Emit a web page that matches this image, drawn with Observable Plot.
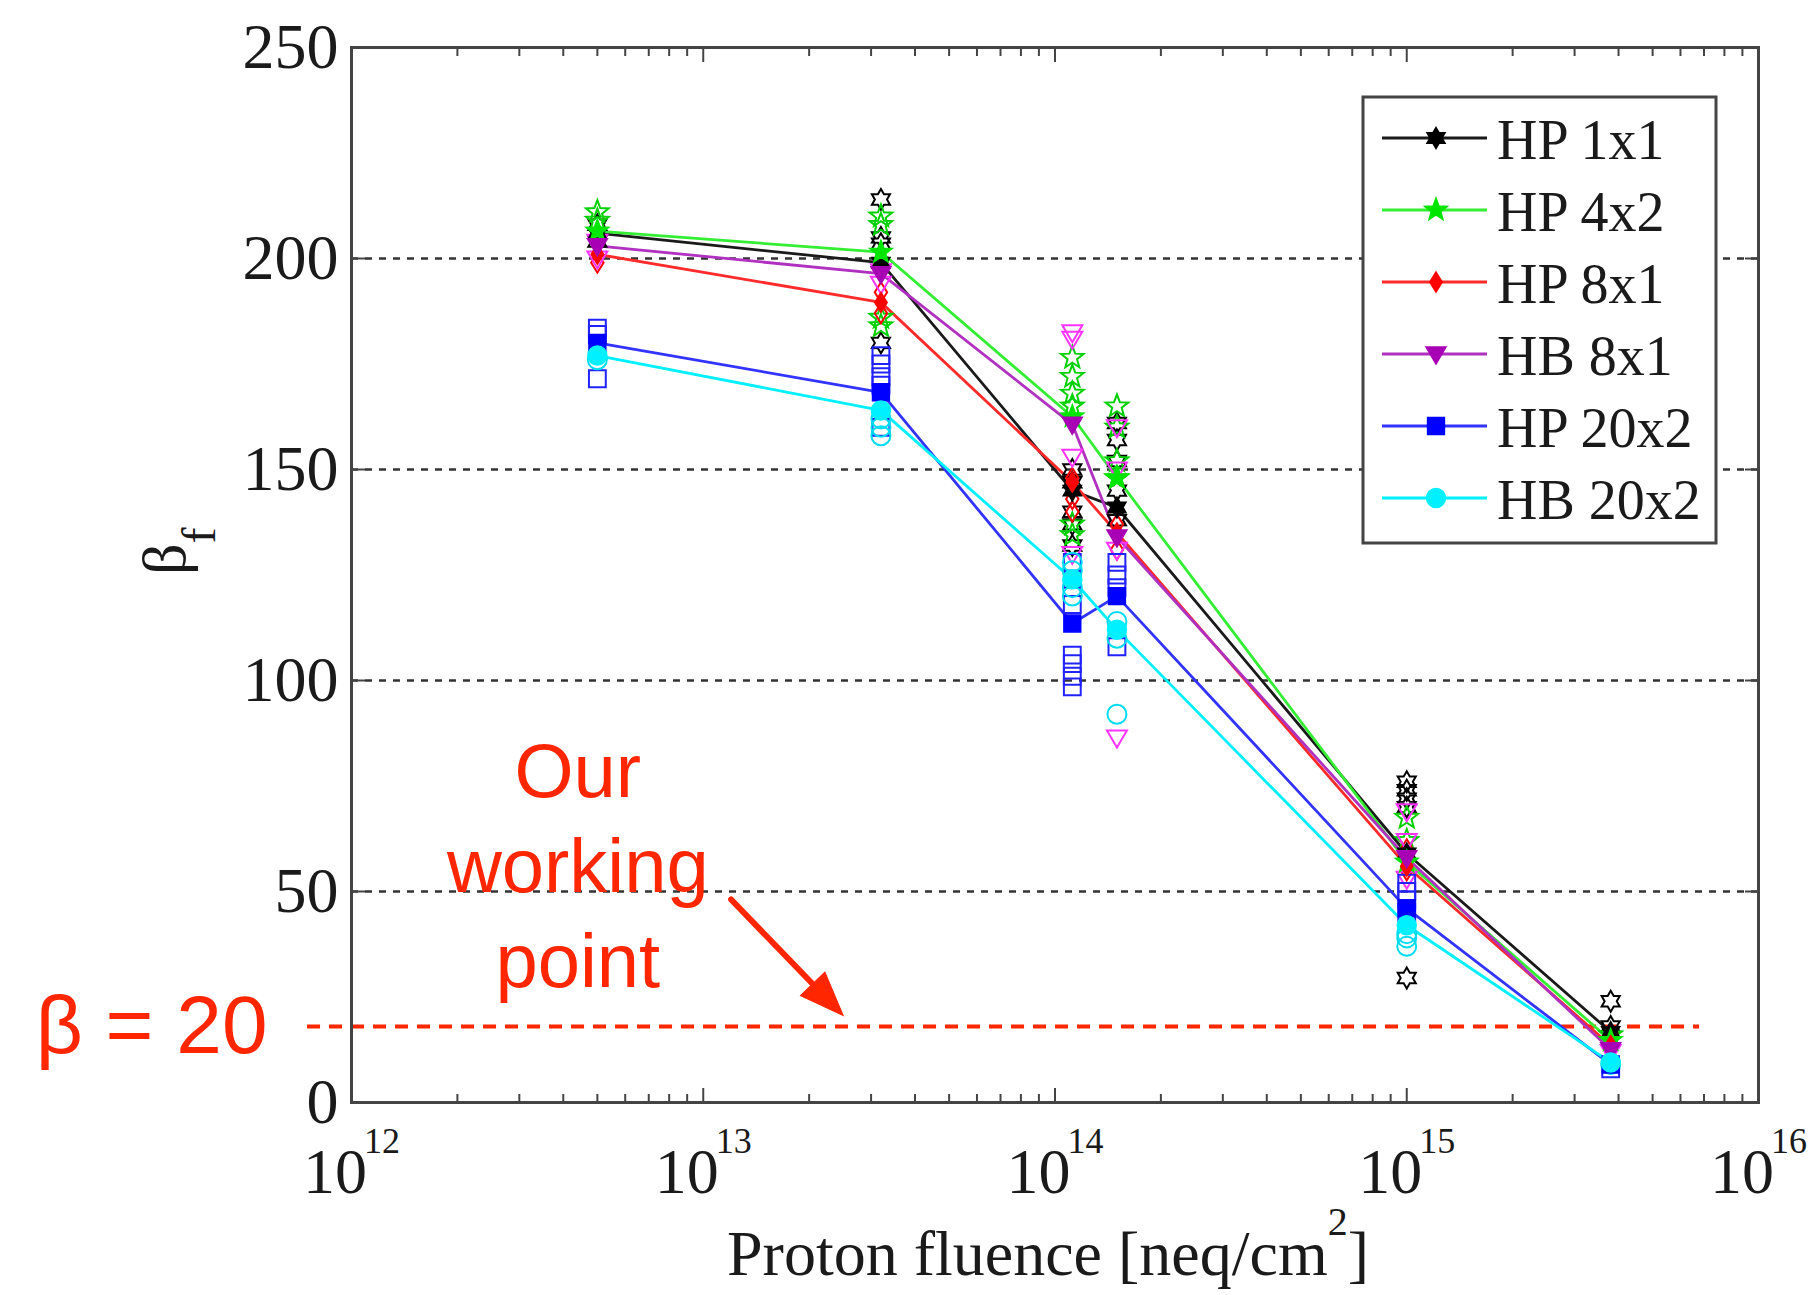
<!DOCTYPE html>
<html><head><meta charset="utf-8">
<script src="https://cdn.jsdelivr.net/npm/d3@7"></script>
<script src="https://cdn.jsdelivr.net/npm/@observablehq/plot@0.6"></script>
<style>html,body{margin:0;padding:0;background:#fff;} #chart{width:1819px;height:1295px;}</style>
</head><body><div id="chart"></div>
<script>
// ---------------- data ----------------
const fluence = [5e12, 3.2e13, 1.12e14, 1.5e14, 1e15, 3.8e15];
const seriesNames = ["HP 1x1", "HP 4x2", "HP 8x1", "HB 8x1", "HP 20x2", "HB 20x2"];

// mean values (filled markers joined by lines)
const hp1x1Mean  = [206, 199, 145, 141, 59, 16.7];
const hp4x2Mean  = [206.5, 201.5, 162.5, 148, 57, 14.7];
const hp8x1Mean  = [201, 189.6, 147, 135, 56, 13.5];
const hb8x1Mean  = [203, 196.4, 160.7, 134, 58, 12.5];
const hp20x2Mean = [180, 168.3, 113.5, 120, 46, 9];
const hb20x2Mean = [177, 164, 124, 112, 42, 9.5];

// individual devices (open markers), one list per fluence
const hp1x1Samples  = [[208, 204], [214, 205, 203.5, 180], [150, 147, 140, 137, 132], [161, 157, 152, 145, 138], [76, 74, 72, 70, 29.5], [24, 18]];
const hp4x2Samples  = [[211, 209], [210, 208, 186, 184], [176.5, 172, 168, 165, 137, 134.5], [165, 160, 152, 148], [67.5, 62], [16]];
const hp8x1Samples  = [[199], [192, 187], [148, 143, 140], [137, 131], [60, 55], [14]];
const hb8x1Samples  = [[204, 200], [197, 194], [182.5, 181, 153, 130], [160, 150, 131, 86.5], [69, 62, 53], [12]];
const hp20x2Samples = [[183.5, 182, 171.5], [177, 175, 172, 170, 160], [128, 124, 118, 106, 104, 101, 98.5], [128, 125, 122, 108], [52, 50, 48, 45], [8]];
const hb20x2Samples = [[176], [162, 160, 158], [128, 126, 122, 120], [114, 110, 92], [40, 39, 37], [9]];

const yTicks = [0, 50, 100, 150, 200, 250];
const gridValues = [50, 100, 150, 200];
const xDecades = [1e12, 1e13, 1e14, 1e15, 1e16];
const xMinor = [2,3,4,5,6,7,8,9].flatMap(m => [12,13,14,15].map(e => m * 10 ** e));
const xLabel = ["Proton fluence [neq/cm^{2}]"];
const yLabel = ["β_{f}"];

// annotation
const betaLine = [18];
const betaLineX = [7.5e11, 6.8e15];
const betaLabel = ["β = 20"];
const betaLabelX = [1.265e11];
const workingLabel = ["Our\nworking\npoint"];
const workingLabelAt = [4.4e12, 57];
const arrowFrom = [1.2e13, 48.1];
const arrowTo = [2.5e13, 20.6];

// ---------------- symbols ----------------
function starSymbol(n, ratio, scale) {
  return {draw(ctx, size) {
    const R = Math.sqrt(size / Math.PI) * scale, r = R * ratio;
    for (let i = 0; i < 2 * n; i++) {
      const a = Math.PI * i / n - Math.PI / 2, rad = i % 2 ? r : R;
      const x = rad * Math.cos(a), y = rad * Math.sin(a);
      i ? ctx.lineTo(x, y) : ctx.moveTo(x, y);
    }
    ctx.closePath();
  }};
}
const hexagram = starSymbol(6, 0.58, 1.1);
const pentagram = starSymbol(5, 0.42, 1.25);
const tallDiamond = {draw(ctx, size) {
  const r = Math.sqrt(size / Math.PI) * 1.05, w = r * 0.62;
  ctx.moveTo(0, -r); ctx.lineTo(w, 0); ctx.lineTo(0, r); ctx.lineTo(-w, 0); ctx.closePath();
}};
const triDown = {draw(ctx, size) {
  const r = Math.sqrt(size / Math.PI) * 1.05;
  ctx.moveTo(-r, -0.7 * r); ctx.lineTo(r, -0.7 * r); ctx.lineTo(0, r); ctx.closePath();
}};
const arrowHead = {draw(ctx) {
  ctx.moveTo(0, 0); ctx.lineTo(17, 44); ctx.lineTo(-17, 44); ctx.closePath();
}};

const series = [
  {name: seriesNames[0], mean: hp1x1Mean,  samples: hp1x1Samples,  line: "#1a1a1a", fill: "#000000", open: "#000000", symbol: hexagram},
  {name: seriesNames[1], mean: hp4x2Mean,  samples: hp4x2Samples,  line: "#33ee33", fill: "#00e600", open: "#00d000", symbol: pentagram},
  {name: seriesNames[2], mean: hp8x1Mean,  samples: hp8x1Samples,  line: "#ff2a2a", fill: "#ff0000", open: "#ff0000", symbol: tallDiamond},
  {name: seriesNames[3], mean: hb8x1Mean,  samples: hb8x1Samples,  line: "#b030c0", fill: "#a800b4", open: "#ff33ff", symbol: triDown},
  {name: seriesNames[4], mean: hp20x2Mean, samples: hp20x2Samples, line: "#3333ff", fill: "#0000ff", open: "#2222ff", symbol: d3.symbolSquare},
  {name: seriesNames[5], mean: hb20x2Mean, samples: hb20x2Samples, line: "#00f0ff", fill: "#00f0ff", open: "#00dcf0", symbol: d3.symbolCircle}
];

const red = "#ff2600";
const serif = "Liberation Serif";
const sans = "Liberation Sans";

const lineMarks = series.map(s => Plot.line(s.mean.map((v, i) => ({x: fluence[i], y: v})),
  {x: "x", y: "y", stroke: s.line, strokeWidth: 2.8}));
const openMarks = series.map(s => Plot.dot(s.samples.flatMap((arr, i) => arr.map(v => ({x: fluence[i], y: v}))),
  {x: "x", y: "y", symbol: s.symbol, r: 9.5, fill: "none", stroke: s.open, strokeWidth: 2}));
const filledMarks = series.map(s => Plot.dot(s.mean.map((v, i) => ({x: fluence[i], y: v})),
  {x: "x", y: "y", symbol: s.symbol, r: 9.5, fill: s.fill, stroke: s.fill, strokeWidth: 1.5}));

const svg = Plot.plot({
  width: 1819, height: 1295,
  marginLeft: 351, marginRight: 61, marginTop: 47, marginBottom: 193,
  style: {fontFamily: serif, background: "#fff", color: "#1a1a1a"},
  x: {type: "log", domain: [1e12, 1e16]},
  y: {domain: [0, 250]},
  marks: [
    Plot.ruleY(gridValues, {stroke: "#333", strokeWidth: 2.5, strokeDasharray: "7,7"}),
    Plot.ruleY(betaLine, {y: d => d, x1: betaLineX[0], x2: betaLineX[1], stroke: red, strokeWidth: 4, strokeDasharray: "13,9"}),
    ...lineMarks,
    ...openMarks,
    ...filledMarks,
    Plot.frame({stroke: "#444", strokeWidth: 3}),
    Plot.axisX(xDecades, {anchor: "bottom", tickSize: -14, fill: "none", stroke: "#444", strokeWidth: 2, label: null}),
    Plot.axisX(xMinor, {anchor: "bottom", tickSize: -8, fill: "none", stroke: "#444", strokeWidth: 2, label: null}),
    Plot.axisX(xDecades, {anchor: "top", tickSize: -14, fill: "none", stroke: "#444", strokeWidth: 2, label: null}),
    Plot.axisX(xMinor, {anchor: "top", tickSize: -8, fill: "none", stroke: "#444", strokeWidth: 2, label: null}),
    Plot.axisY(yTicks, {anchor: "left", tickSize: -14, fill: "none", stroke: "#444", strokeWidth: 2, label: null}),
    Plot.axisY(yTicks, {anchor: "right", tickSize: -14, fill: "none", stroke: "#444", strokeWidth: 2, label: null}),
    Plot.axisY(yTicks, {anchor: "left", tickSize: 0, tickPadding: 13, stroke: "none", fill: "#1a1a1a", fontSize: 64, fontFamily: serif, label: null}),
    Plot.text(xDecades, {x: d => d, frameAnchor: "bottom", dy: 90, text: d => `10^{${Math.round(Math.log10(d))}}`,
      fontSize: 64, fontFamily: serif, fill: "#1a1a1a"}),
    Plot.text(xLabel, {frameAnchor: "bottom", dx: -7, dy: 172, text: d => d,
      fontSize: 64, fontFamily: serif, fill: "#1a1a1a"}),
    Plot.text(yLabel, {frameAnchor: "left", dx: -186, dy: 0, rotate: -90, text: d => d,
      fontSize: 62, fontFamily: serif, fill: "#1a1a1a"}),
    Plot.arrow([0], {x1: arrowFrom[0], y1: arrowFrom[1], x2: arrowTo[0], y2: arrowTo[1], headLength: 0, insetEnd: 30, stroke: red, strokeWidth: 6}),
    Plot.dot([0], {x: arrowTo[0], y: arrowTo[1], symbol: arrowHead, rotate: 136, fill: red, stroke: red, strokeWidth: 1}),
    Plot.text(workingLabel, {x: workingLabelAt[0], y: workingLabelAt[1], text: d => d, lineHeight: 1.25,
      fontSize: 76, fontFamily: sans, fill: red}),
    Plot.text(betaLabel, {x: betaLabelX[0], y: betaLine[0], text: d => d, textAnchor: "start",
      fontSize: 82, fontFamily: sans, fill: red})
  ]
});

// rich text: superscripts ^{..} and subscripts _{..}
d3.select(svg).selectAll("text").each(function() {
  const src = this.textContent;
  if (!/[\^_]\{/.test(src) || this.querySelector("tspan")) return;
  const isY = src.startsWith("β_");
  const isTick = src.startsWith("10^");
  const small = isY ? 48 : isTick ? 36 : 40, shift = isY ? 30 : 40, kern = isTick ? -3 : 0;
  const el = d3.select(this).text(null);
  const re = /([\^_])\{([^}]*)\}/g;
  let last = 0, m, pending = 0;
  const add = (txt, size, dy, dx) => {
    if (!txt) return;
    const t = el.append("tspan").text(txt);
    if (size) t.attr("font-size", size);
    if (dy) t.attr("dy", dy);
    if (dx) t.attr("dx", dx);
  };
  while ((m = re.exec(src))) {
    add(src.slice(last, m.index), null, pending); pending = 0;
    const d = m[1] === "^" ? -shift : shift;
    add(m[2], small, d, kern);
    pending = -d;
    last = re.lastIndex;
  }
  add(src.slice(last), null, pending);
});

// legend
const lg = d3.select(svg).append("g").attr("aria-label", "legend");
lg.append("rect").attr("x", 1363).attr("y", 97).attr("width", 353).attr("height", 446)
  .attr("fill", "#fff").attr("stroke", "#444").attr("stroke-width", 3);
series.forEach((s, i) => {
  const y = 138 + i * 72;
  lg.append("line").attr("x1", 1382).attr("x2", 1487).attr("y1", y).attr("y2", y)
    .attr("stroke", s.line).attr("stroke-width", 2.8);
  lg.append("path").attr("d", d3.symbol(s.symbol, Math.PI * 9.5 * 9.5)())
    .attr("transform", `translate(1436,${y})`).attr("fill", s.fill).attr("stroke", s.fill).attr("stroke-width", 1.5);
  lg.append("text").attr("x", 1497).attr("y", y + 21).attr("font-family", serif).attr("font-size", 56)
    .attr("text-anchor", "start").attr("fill", "#1a1a1a").text(s.name);
});

document.getElementById("chart").appendChild(svg);
</script>
</body></html>
